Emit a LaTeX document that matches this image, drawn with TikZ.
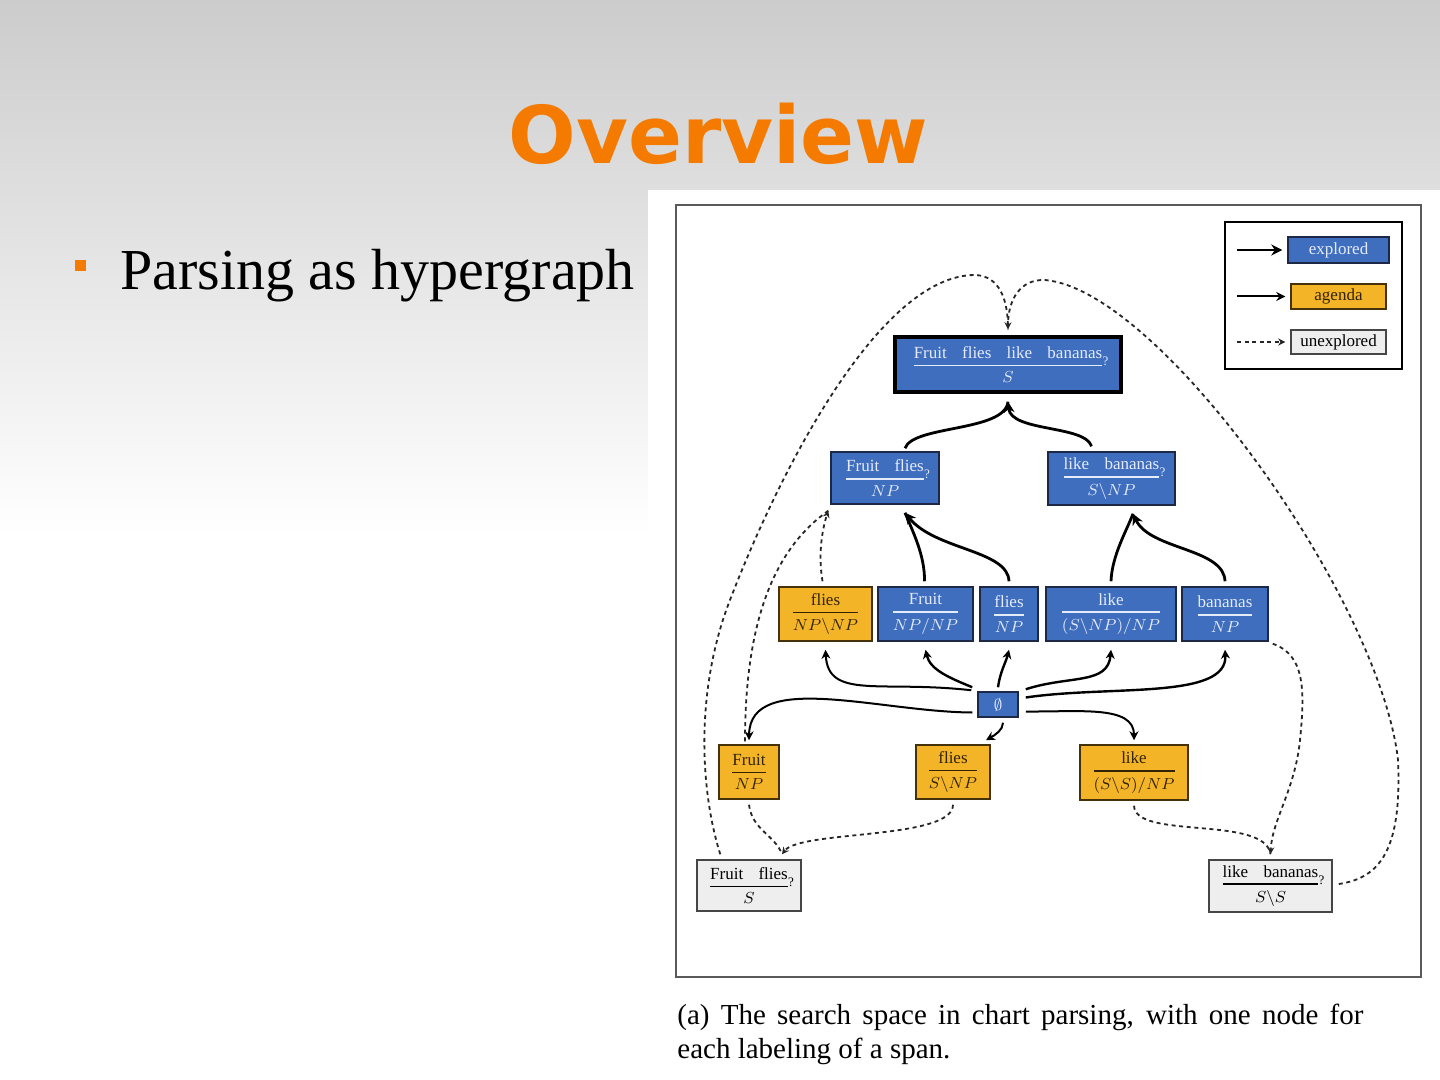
\documentclass[tikz,border=0pt]{standalone}
\usepackage{amsmath}
\usepackage{fontspec}
\setmainfont{Liberation Serif}
\newfontfamily\titlefont{DejaVu Sans}
\usetikzlibrary{arrows.meta,calc}
\definecolor{cblue}{RGB}{64,110,190}
\definecolor{cbord}{RGB}{28,40,70}
\definecolor{corange}{RGB}{244,180,40}
\definecolor{cbordo}{RGB}{70,50,10}
\definecolor{cgrayf}{RGB}{238,238,238}
\definecolor{cbordu}{RGB}{70,70,70}
\definecolor{ctextb}{RGB}{228,235,250}
\definecolor{ctexto}{RGB}{50,35,5}
\definecolor{ctitle}{RGB}{245,123,0}
\definecolor{cframe}{RGB}{90,90,90}
\newcommand\lex[2]{$\genfrac{}{}{0.9pt}{0}{\text{#1}}{#2}$}
\newcommand\spn[2]{$\genfrac{}{}{0.9pt}{0}{\text{#1}}{#2}\rlap{\kern-1pt\raisebox{2pt}{\fontsize{6.5}{7}\selectfont ?}}$}
\newcommand\gap{\hspace{0.9em}}
\tikzset{
  cbox/.style={rectangle, inner sep=0pt, line width=0.75pt, font=\fontsize{8.5}{10}\selectfont},
  bx/.style={cbox, draw=cbord, fill=cblue, text=ctextb},
  ag/.style={cbox, draw=cbordo, fill=corange, text=ctexto},
  ux/.style={cbox, draw=cbordu, fill=cgrayf, text=black},
  sz/.style 2 args={minimum width=#1*0.5pt, minimum height=#2*0.5pt},
  hard/.style={line width=1.4pt, black, -{Stealth[length=5.5pt,width=5.5pt]}},
  hardn/.style={line width=1.4pt, black},
  soft/.style={line width=1pt, black, -{Stealth[length=4.5pt,width=4.5pt]}},
  unex/.style={line width=0.9pt, black!85, dash pattern=on 2pt off 1.8pt, -{Stealth[length=3.5pt,width=3.5pt]}},
  unexn/.style={line width=0.9pt, black!85, dash pattern=on 2pt off 1.8pt},
}
\begin{document}
\begin{tikzpicture}[x=0.5pt,y=-0.5pt]
\useasboundingbox (0,0) rectangle (1440,1080);
\fill[white] (0,0) rectangle (1440,1080);
\shade[top color=gray!40, bottom color=white] (0,0) rectangle (1440,535);
\fill[white] (648,190) rectangle (1440,1080);
\draw[cframe, line width=1.1pt] (676,205) rectangle (1421,977);

% title and bullet
\node[font=\titlefont\bfseries\fontsize{39.8}{40}\selectfont, text=ctitle, anchor=base, inner sep=0] (title) at (718.5,164) {Overview};
\node[fill=ctitle, inner sep=0, minimum size=5.5pt] (bul) at (80.5,265.5) {};
\node[anchor=base west, inner sep=0, font=\fontsize{29}{30}\selectfont] (btext) at (120,290) {Parsing as hypergraph};

% legend
\node[draw=black, line width=0.9pt, sz={177}{147}] (legend) at (1313.5,295.5) {};
\node[bx, sz={101}{26}] (lexp) at (1338.5,250) {explored};
\node[ag, sz={95}{25}] (lag) at (1338.5,296.5) {agenda};
\node[ux, sz={95}{24}] (lun) at (1338.5,342) {unexplored};
\coordinate (la) at (1237,250);
\coordinate (lb) at (1237,296.5);
\coordinate (lc) at (1237,342);
\draw[hard] (la) -- ($(lexp.west)+(-5,0)$);
\draw[soft] (lb) -- ($(lag.west)+(-5,0)$);
\draw[unex] (lc) -- ($(lun.west)+(-5,0)$);

% nodes
\node[bx, sz={226}{55}, line width=1.7pt, draw=black] (top) at (1008,364.5) {\spn{Fruit\gap flies\gap like\gap bananas}{S}};
\node[bx, sz={108}{52}] (ffNP) at (885,478) {\spn{Fruit\gap flies}{NP}};
\node[bx, sz={127}{53}] (lbSNP) at (1111.5,478.5) {\spn{like\gap bananas}{S\backslash NP}};
\node[ag, sz={93}{54}] (fNPNP) at (825.5,614) {\lex{flies}{NP\backslash NP}};
\node[bx, sz={95}{54}] (FrNPNP) at (925.5,614) {\lex{Fruit}{NP/NP}};
\node[bx, sz={58}{54}] (flNP) at (1009,614) {\lex{flies}{NP}};
\node[bx, sz={130}{54}] (liSNPNP) at (1111,614) {\lex{like}{(S\backslash NP)/NP}};
\node[bx, sz={86}{54}] (baNP) at (1225,614) {\lex{bananas}{NP}};
\node[bx, sz={40}{25}] (empty) at (998,704.5) {$\emptyset$};
\node[ag, sz={60}{54}] (FrNP) at (749,772) {\lex{Fruit}{NP}};
\node[ag, sz={74}{54}] (flSNP) at (953,772) {\lex{flies}{S\backslash NP}};
\node[ag, sz={108}{55}] (liSSNP) at (1134,772.5) {\lex{like}{(S\backslash S)/NP}};
\node[ux, sz={104}{51}] (ffS) at (749,885.5) {\spn{Fruit\gap flies}{S}};
\node[ux, sz={123}{52}] (lbSS) at (1270.5,886) {\spn{like\gap bananas}{S\backslash S}};

% explored hyperedges
\draw[hardn] ($(ffNP.north)+(20,-3)$) .. controls (913,425) and (1005,432) .. ($(top.south)+(0,8)$);
\draw[hard] ($(lbSNP.north)+(-20,-5)$) .. controls (1085,425) and (1011,432) .. ($(top.south)+(0,8)$);
\draw[hardn] ($(FrNPNP.north)+(-1,-5)$) .. controls (925,555) and (912,530) .. ($(ffNP.south)+(20,8)$);
\draw[hard] ($(flNP.north)+(0,-5)$) .. controls (1008,550) and (935,550) .. ($(ffNP.south)+(20,8)$);
\draw[hardn] ($(liSNPNP.north)+(0,-5)$) .. controls (1112,555) and (1127,530) .. ($(lbSNP.south)+(21.5,8)$);
\draw[hard] ($(baNP.north)+(0,-5)$) .. controls (1224,548) and (1150,550) .. ($(lbSNP.south)+(21.5,8)$);

% edges from empty
\draw[soft] ($(empty.north west)+(-6,-1)$) .. controls (880,680) and (828,700) .. ($(fNPNP.south)+(0,8)$);
\draw[soft, line width=1.2pt] ($(empty.north west)+(-5,-4)$) .. controls (950,678) and (930,670) .. ($(FrNPNP.south)+(0,8)$);
\draw[soft, line width=1.2pt] ($(empty.north)+(0,-4)$) .. controls (1000,672) and (1006,662) .. ($(flNP.south)+(0,8)$);
\draw[soft, line width=1.2pt] ($(empty.north east)+(7,-2)$) .. controls (1070,675) and (1108,685) .. ($(liSNPNP.south)+(0,8)$);
\draw[soft, line width=1.2pt] ($(empty.east)+(7,-7)$) .. controls (1110,685) and (1228,700) .. ($(baNP.south)+(0,8)$);
\draw[soft] ($(empty.west)+(-5,8)$) .. controls (880,712) and (750,670) .. ($(FrNP.north)+(0,-4)$);
\draw[soft] ($(empty.south)+(5,5)$) .. controls (1003,730) and (995,735) .. ($(flSNP.north)+(33,-4)$);
\draw[soft] ($(empty.east)+(7,7)$) .. controls (1080,712) and (1134,705) .. ($(liSSNP.north)+(0,-4)$);

% unexplored hyperedges
\draw[unexn] ($(FrNP.north)+(-4,-3)$) .. controls (745,610) and (780,545) .. ($(ffNP.south west)+(-2,6)$);
\draw[unex] ($(fNPNP.north)+(-3,-5)$) .. controls (818,555) and (822,530) .. ($(ffNP.south west)+(-2,6)$);
\draw[unexn] ($(ffS.north west)+(24,-5)$) .. controls (700,790) and (695,690) .. (730,600) .. controls (780,470) and (880,275) .. (975,275) .. controls (1000,276) and (1008,300) .. ($(top.north)+(0,-6)$);
\draw[unex] ($(lbSS.east)+(6,-2)$) .. controls (1380,878) and (1402,850) .. (1398,760) .. controls (1380,600) and (1160,290) .. (1045,280) .. controls (1020,279) and (1008,300) .. ($(top.north)+(0,-6)$);
\draw[unexn] ($(FrNP.south)+(0,5)$) .. controls (752,830) and (775,835) .. ($(ffS.north)+(33,-5)$);
\draw[unex] ($(flSNP.south)+(0,5)$) .. controls (953,840) and (800,830) .. ($(ffS.north)+(33,-5)$);
\draw[unexn] ($(liSSNP.south)+(0,5)$) .. controls (1135,840) and (1265,815) .. ($(lbSS.north)+(0,-5)$);
\draw[unex] ($(baNP.south east)+(4,2)$) .. controls (1305,655) and (1305,690) .. (1300,740) .. controls (1295,790) and (1272,820) .. ($(lbSS.north)+(0,-5)$);

% caption
\node[anchor=base west, inner sep=0, font=\fontsize{14.5}{17}\selectfont] (cap1) at (677,1024) {\makebox[343pt][s]{(a) The search space in chart parsing, with one node for}};
\node[anchor=base west, inner sep=0, font=\fontsize{14.5}{17}\selectfont] (cap2) at (677,1058) {each labeling of a span.};
\end{tikzpicture}
\end{document}
